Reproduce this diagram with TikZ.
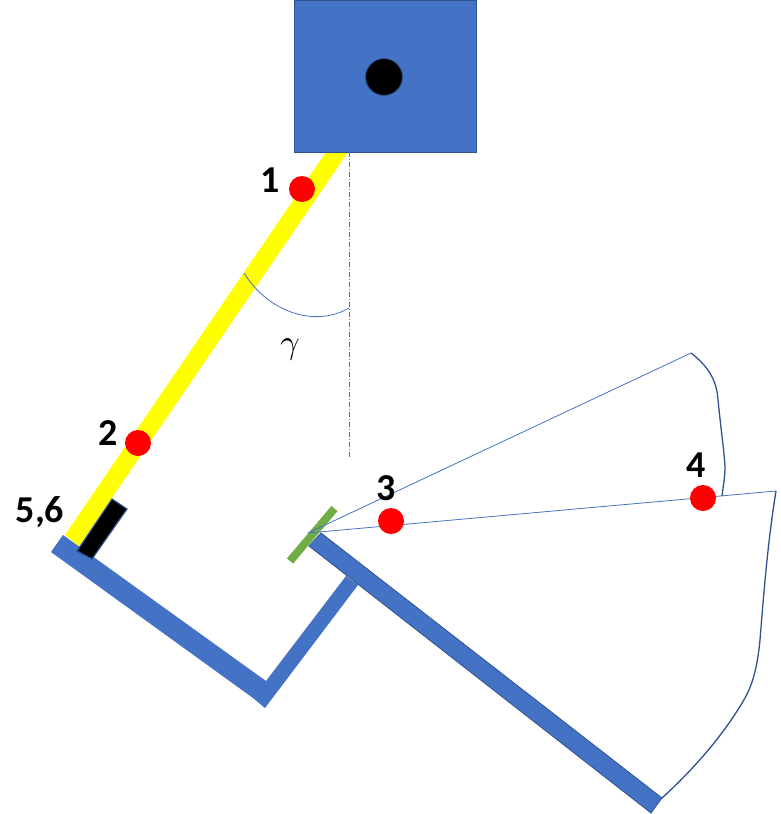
\documentclass[tikz,border=0pt]{standalone}
\usepackage{fontspec}
\setmainfont{Carlito}
\definecolor{armblue}{RGB}{68,114,196}
\definecolor{edgeblue}{RGB}{47,82,143}
\definecolor{mirrorgreen}{RGB}{112,173,71}
\definecolor{bandyellow}{RGB}{255,255,0}
\definecolor{pointred}{RGB}{255,0,0}
\tikzset{
    beam/.style={fill=armblue, draw=edgeblue, line width=0.8pt},
    ray/.style={draw=armblue, line width=0.8pt},
    rim/.style={draw=edgeblue, line width=1.3pt},
    point/.style={circle, fill=pointred, minimum size=26pt, inner sep=0pt},
    numlabel/.style={font=\fontsize{38}{38}\selectfont\bfseries, inner sep=0pt}
}
\begin{document}
\begin{tikzpicture}[x=1pt, y=-1pt]
        \useasboundingbox (0,0) rectangle (780,814);

        % Define the positions of the end points
        \foreach \name/\x/\y in {apex/308/533, rayend/691/353, fanend/776/491, rimjoin/722/496, beamend/662/798, vtop/349/152, vbottom/349/458, gammaa/244/273, gammab/349/308} {
            \coordinate (\name) at (\x,\y);
        }

        % Connect the yellow band and the housing
        \fill[bandyellow] (326,152) -- (348,152) -- (79,546) -- (65,535) -- cycle;
        \node[draw=edgeblue, fill=armblue, line width=1pt, minimum width=182pt, minimum height=152pt, inner sep=0pt] (housing) at (385,76) {};
        \node[circle, draw=edgeblue, fill=black, line width=1pt, minimum size=37pt, inner sep=0pt] (pivot) at (384,77) {};

        % Frame, long beam, sensor and mirror
        \fill[armblue] (63,535) -- (266,681) -- (346,576) -- (358,585) -- (265,708) -- (253,698) -- (51,552) -- cycle;
        \draw[beam] (321,533) -- (662,798) -- (651,813) -- (309,546) -- cycle;
        \draw[edgeblue, fill=black, line width=1.2pt] (112,499) -- (127,509) -- (92,559) -- (77,551) -- cycle;
        \draw[mirrorgreen, line width=8pt] (334.5,508.5) -- (290,561);

        % Rays and rims
        \draw[armblue, line width=0.7pt, dash pattern=on 5pt off 2pt on 1pt off 2pt] (vtop) -- (vbottom);
        \draw[ray] (gammaa) .. controls (268,312) and (315,328) .. (gammab);
        \draw[ray] (apex) -- (rayend);
        \draw[ray] (apex) -- (fanend);
        \draw[rim] (rayend) .. controls (712,369) and (717,385) .. (718,400) .. controls (721,430) and (724,450) .. (725,467) .. controls (725,478) and (723,487) .. (rimjoin);
        \draw[rim] (fanend) .. controls (768,540) and (764,590) .. (760,640) .. controls (757,670) and (752,685) .. (745,698) .. controls (725,733) and (695,768) .. (beamend);

        % Define the red points and their numbers
        \foreach \i/\x/\y/\lx/\ly in {1/302/189/270/180, 2/138/443/108/433, 3/391/521/386/488, 4/703/498/696/465} {
            \node[point] (p\i) at (\x,\y) {};
            \node[numlabel] (n\i) at (\lx,\ly) {\i};
        }
        \node[numlabel] (n56) at (40,512) {5,6};
        \node[inner sep=0pt, scale=3.4] (gammalabel) at (290,349) {$\gamma$};
    \end{tikzpicture}
\end{document}
